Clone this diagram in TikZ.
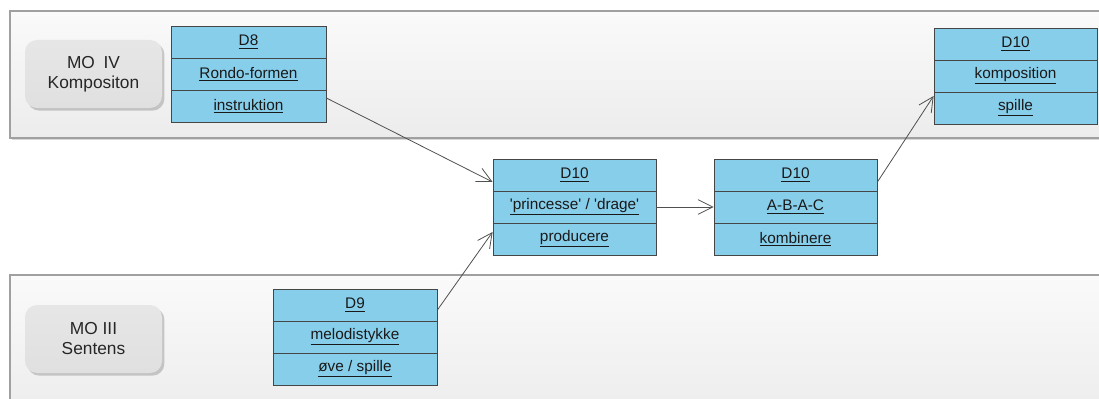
\documentclass[tikz,border=0pt]{standalone}
\usepackage{fontspec}
\setmainfont{Liberation Sans}
\usetikzlibrary{arrows.meta,shadows}
\definecolor{boxblue}{RGB}{135,206,235}
\definecolor{boxline}{RGB}{70,70,70}
\definecolor{bandtop}{RGB}{250,250,250}
\definecolor{bandbot}{RGB}{236,236,236}
\definecolor{bandline}{RGB}{160,160,160}
\definecolor{mofill}{RGB}{224,224,224}
\definecolor{arrowline}{RGB}{80,80,80}
\begin{document}
\begin{tikzpicture}[x=0.75pt,y=-0.75pt,
  band/.style={draw=bandline, line width=1pt, top color=bandtop, bottom color=bandbot,
    drop shadow={shadow xshift=1.2pt, shadow yshift=-1.5pt, fill=black!30}},
  molabel/.style={rounded corners=9pt, top color=mofill!80!white, bottom color=mofill,
    drop shadow={shadow xshift=1.8pt, shadow yshift=-2pt, fill=black!40},
    align=center, font=\fontsize{13}{15}\selectfont, text=black!85,
    minimum width=102.75pt, minimum height=51pt, inner sep=0pt},
  row/.style={draw=boxline, fill=boxblue, line width=0.6pt, minimum height=24pt,
    inner sep=0pt, font=\fontsize{11.5}{13}\selectfont, text=black!90},
  conn/.style={draw=arrowline, line width=0.6pt, -{Straight Barb[length=11pt,width=11pt]}}]
\clip (0,0) rectangle (1099,399);
\useasboundingbox (0,0) rectangle (1099,399);
% bands
\path[band] (10,11) rectangle (1110,138);
\path[band] (10,275) rectangle (1110,420);
% lane labels
\node[molabel] (mo4) at (93.5,74) {MO\hspace{0.5em}IV\\Kompositon};
\node[molabel] (mo3) at (93.5,339) {MO III\\Sentens};
% D8
\node[row, minimum width=116.25pt] (d8a) at (248.5,42) {\underline{D8}};
\node[row, minimum width=116.25pt] (d8b) at (248.5,74) {\underline{Rondo-formen}};
\node[row, minimum width=116.25pt] (d8c) at (248.5,106) {\underline{instruktion}};
% D9
\node[row, minimum width=123pt] (d9a) at (355,305) {\underline{D9}};
\node[row, minimum width=123pt] (d9b) at (355,337) {\underline{melodistykke}};
\node[row, minimum width=123pt] (d9c) at (355,369) {\underline{øve / spille}};
% middle 1
\node[row, minimum width=122.25pt] (m1a) at (574.5,175) {\underline{D10}};
\node[row, minimum width=122.25pt] (m1b) at (574.5,207) {\underline{\textquotesingle princesse\textquotesingle\ / \textquotesingle drage\textquotesingle}};
\node[row, minimum width=122.25pt] (m1c) at (574.5,239) {\underline{producere}};
% middle 2
\node[row, minimum width=122.25pt] (m2a) at (795.5,175) {\underline{D10}};
\node[row, minimum width=122.25pt] (m2b) at (795.5,207) {\underline{A-B-A-C}};
\node[row, minimum width=122.25pt] (m2c) at (795.5,239) {\underline{kombinere}};
% top right
\node[row, minimum width=122.25pt] (tra) at (1015.5,44) {\underline{D10}};
\node[row, minimum width=122.25pt] (trb) at (1015.5,76) {\underline{komposition}};
\node[row, minimum width=122.25pt] (trc) at (1015.5,108) {\underline{spille}};
% connectors
\draw[conn] ([yshift=6pt]d8c.east) -- ([yshift=-5.25pt]m1a.west);
\draw[conn] ([yshift=-3.75pt]d9a.east) -- ([yshift=5.25pt]m1c.west);
\draw[conn] (m1b.east) -- (m2b.west);
\draw[conn] ([yshift=-5.25pt]m2a.east) -- ([yshift=9pt]trc.west);
\end{tikzpicture}
\end{document}
